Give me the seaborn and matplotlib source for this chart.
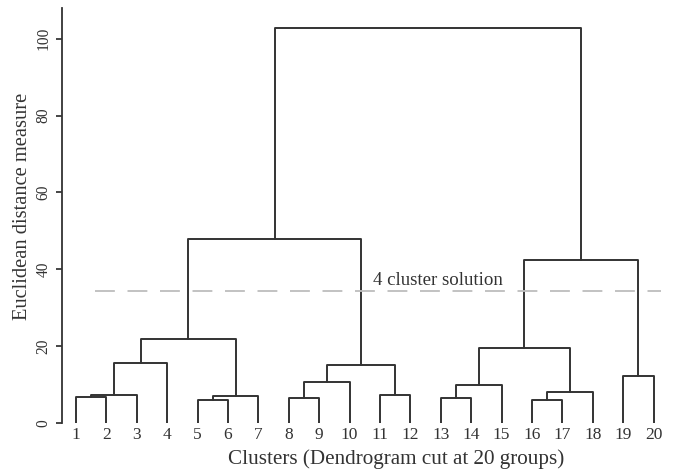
import matplotlib
matplotlib.use("Agg")
import matplotlib.pyplot as plt
import numpy as np
import pandas as pd
import seaborn as sns

# Leaves in plotting order
leaf_labels = [str(i) for i in range(1, 21)]

# Merges: node ids 1..20 are leaves, merge k creates node 21 + k
merge_a = [1, 21, 22, 5, 24, 23, 8, 27, 11, 28, 26, 13, 32, 16, 34, 33, 19, 36, 31]
merge_b = [2, 3, 4, 6, 7, 25, 9, 10, 12, 29, 30, 14, 15, 17, 18, 35, 20, 37, 38]
merge_height = [6.7, 7.3, 15.7, 6.0, 7.1, 21.9, 6.4, 10.6, 7.3, 15.1, 47.8,
                6.4, 9.9, 6.0, 8.1, 19.4, 12.2, 42.4, 102.8]

cut_height = 34.3
cut_span = [1.63, 20.24]
cut_label = "4 cluster solution"

# Build dendrogram segments (R-style: parent sits at midpoint of children)
pos = {i + 1: float(i + 1) for i in range(len(leaf_labels))}
hgt = {i + 1: 0.0 for i in range(len(leaf_labels))}
rows = []
for k, (a, b, h) in enumerate(zip(merge_a, merge_b, merge_height)):
    pts = [(pos[a], hgt[a]), (pos[a], h), (pos[b], h), (pos[b], hgt[b])]
    for j, (x, y) in enumerate(pts):
        rows.append({'link': k, 'order': j, 'x': x, 'y': y})
    node = 21 + k
    pos[node] = (pos[a] + pos[b]) / 2
    hgt[node] = h
seg = pd.DataFrame(rows)

sns.set_style('ticks')
plt.rcParams['font.family'] = ['Liberation Serif', 'DejaVu Serif']

fig = plt.figure(figsize=(6.81, 4.72), dpi=100)
ax = fig.add_axes([62 / 681, 1 - 423 / 472, (670 - 62) / 681, (423 - 8) / 472])

sns.lineplot(data=seg, x='x', y='y', units='link', estimator=None, sort=False,
             color='#333333', linewidth=1.4, legend=False, ax=ax)

ax.plot(cut_span, [cut_height, cut_height], color='#bdbdbd', linewidth=1.3,
        dashes=(11, 7))
ax.text(10.77, cut_height + 0.6, cut_label, fontsize=13.6, color='#333333',
        va='bottom', ha='left')

ax.set_xlim(0.54, 20.54)
ax.set_ylim(0, 108)
ax.set_xticks(range(1, 21))
ax.set_xticklabels(leaf_labels)
ax.set_yticks([0, 20, 40, 60, 80, 100])
ax.set_yticklabels(['0', '20', '40', '60', '80', '100'], rotation=90, va='center')
ax.tick_params(axis='x', length=0, pad=3, labelsize=12.5)
ax.tick_params(axis='y', length=4, width=1.2, pad=3.5, labelsize=11.2)
for lab in ax.get_xticklabels() + ax.get_yticklabels():
    lab.set_color('#333333')
sns.despine(ax=ax, bottom=True)
ax.spines['left'].set_color('#333333')
ax.spines['left'].set_linewidth(1.3)

ax.set_xlabel('Clusters (Dendrogram cut at 20 groups)', fontsize=15.2, color='#333333')
ax.set_ylabel('Euclidean distance measure', fontsize=14.8, color='#333333')
ax.xaxis.set_label_coords(0.549, -0.063)
ax.yaxis.set_label_coords(-0.05, 0.523)

fig.savefig('out.png', dpi=100)
